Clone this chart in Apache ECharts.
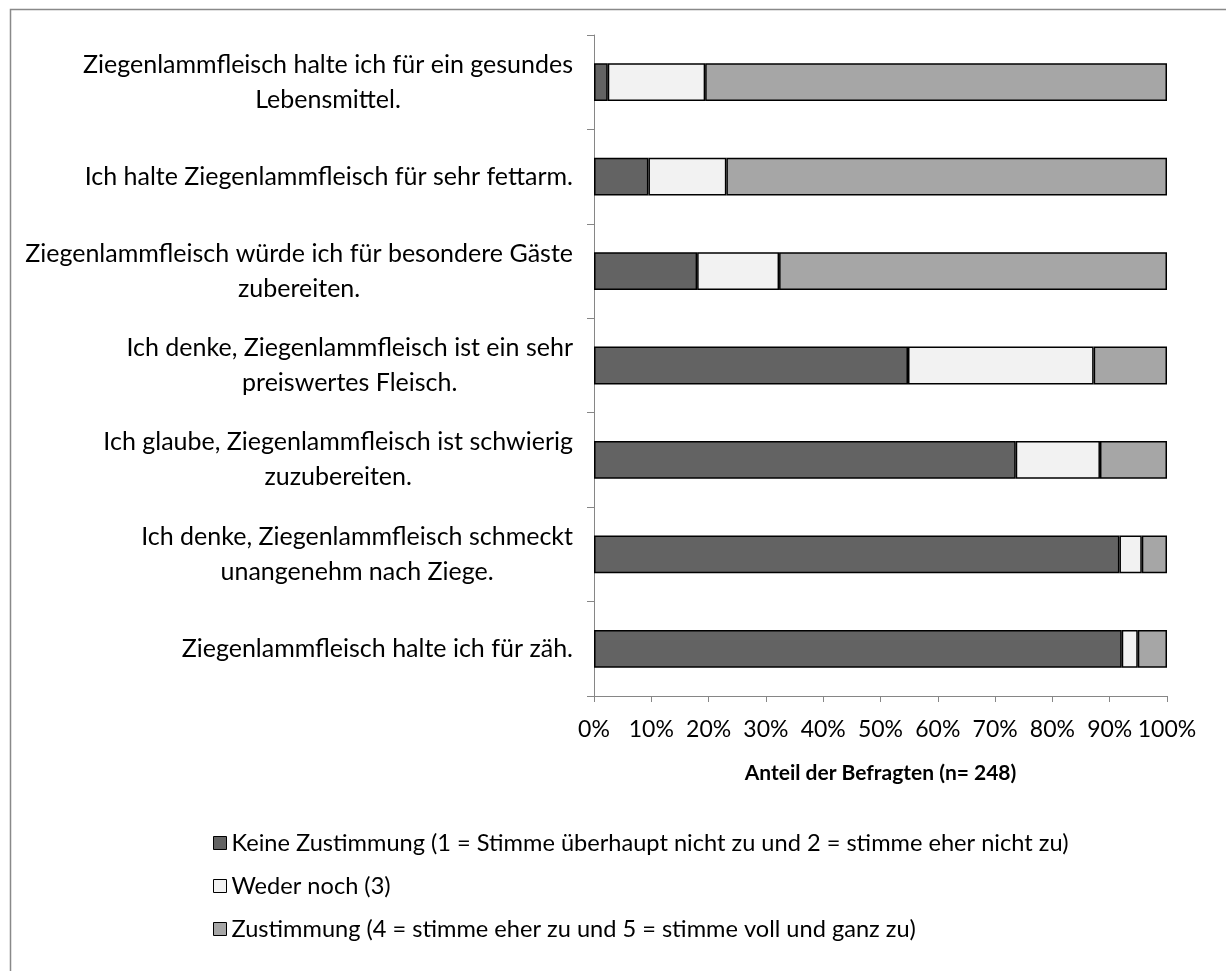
<!DOCTYPE html>
<html><head><meta charset="utf-8">
<script src="https://cdn.jsdelivr.net/npm/echarts@6/dist/echarts.min.js"></script>
<style>html,body{margin:0;padding:0;background:#fff}#c{width:1226px;height:971px}</style>
</head><body><div id="c"></div>
<script>
const categories = [
  "Ziegenlammfleisch halte ich für ein gesundes\nLebensmittel.",
  "Ich halte Ziegenlammfleisch für sehr fettarm.",
  "Ziegenlammfleisch würde ich für besondere Gäste\nzubereiten.",
  "Ich denke, Ziegenlammfleisch ist ein sehr\npreiswertes Fleisch.",
  "Ich glaube, Ziegenlammfleisch ist schwierig\nzuzubereiten.",
  "Ich denke, Ziegenlammfleisch schmeckt\nunangenehm nach Ziege.",
  "Ziegenlammfleisch halte ich für zäh."
];
const keineZustimmung = [2.4, 9.5, 18.0, 54.8, 73.6, 91.7, 92.1];
const wederNoch = [17.0, 13.6, 14.3, 32.4, 14.7, 3.9, 2.8];
const zustimmung = [80.6, 76.9, 67.7, 12.8, 11.7, 4.4, 5.1];
const seriesNames = [
  "Keine Zustimmung (1 = Stimme überhaupt nicht zu und 2 = stimme eher nicht zu)",
  "Weder noch (3)",
  "Zustimmung (4 = stimme eher zu und 5 = stimme voll und ganz zu)"
];
const seriesColors = ["#636363", "#f2f2f2", "#a6a6a6"];
const axisTitle = "Anteil der Befragten (n= 248)";

const FONT = "Lato";
const chart = echarts.init(document.getElementById('c'), null, {renderer: 'canvas'});
const values = [keineZustimmung, wederNoch, zustimmung];
chart.setOption({
  animation: false,
  textStyle: {fontFamily: FONT, color: '#000'},
  graphic: [{
    type: 'rect', left: 8, top: 7, shape: {width: 1240, height: 1000},
    style: {fill: 'none', stroke: '#898989', lineWidth: 1.5}, silent: true
  }],
  grid: {left: 594, right: 59, top: 35, bottom: 275, containLabel: false},
  legend: {
    orient: 'vertical', left: 208, top: 825, itemGap: 17,
    itemWidth: 13, itemHeight: 13, icon: 'rect',
    textStyle: {fontFamily: FONT, fontSize: 23.6, color: '#000', lineHeight: 26},
    itemStyle: {borderColor: '#000', borderWidth: 1},
    data: seriesNames, selectedMode: false
  },
  xAxis: {
    type: 'value', min: 0, max: 100, interval: 10,
    name: axisTitle, nameLocation: 'middle', nameGap: 67,
    nameTextStyle: {fontFamily: FONT, fontSize: 21, fontWeight: 'bold', color: '#000'},
    axisLine: {show: true, lineStyle: {color: '#868686', width: 1}},
    axisTick: {show: true, length: 6, lineStyle: {color: '#868686'}},
    splitLine: {show: false},
    axisLabel: {formatter: '{value}%', fontFamily: FONT, fontSize: 23, color: '#000', margin: 22}
  },
  yAxis: {
    type: 'category', inverse: true, data: categories,
    axisLine: {show: true, lineStyle: {color: '#868686', width: 1}},
    axisTick: {show: true, length: 7, lineStyle: {color: '#868686'}},
    axisLabel: {
      margin: 21, fontFamily: FONT, fontSize: 25, color: '#000',
      formatter: v => v.split('\n').map(l => '{c|' + l + '}').join('\n'),
      rich: {c: {align: 'center', fontFamily: FONT, fontSize: 25, lineHeight: 35, color: '#000'}}
    }
  },
  series: values.map((d, i) => ({
    name: seriesNames[i], type: 'bar', stack: 'total', data: d,
    barWidth: '40%',
    itemStyle: {color: seriesColors[i], borderColor: '#000', borderWidth: 1.5},
    emphasis: {disabled: true}
  }))
});
</script></body></html>
